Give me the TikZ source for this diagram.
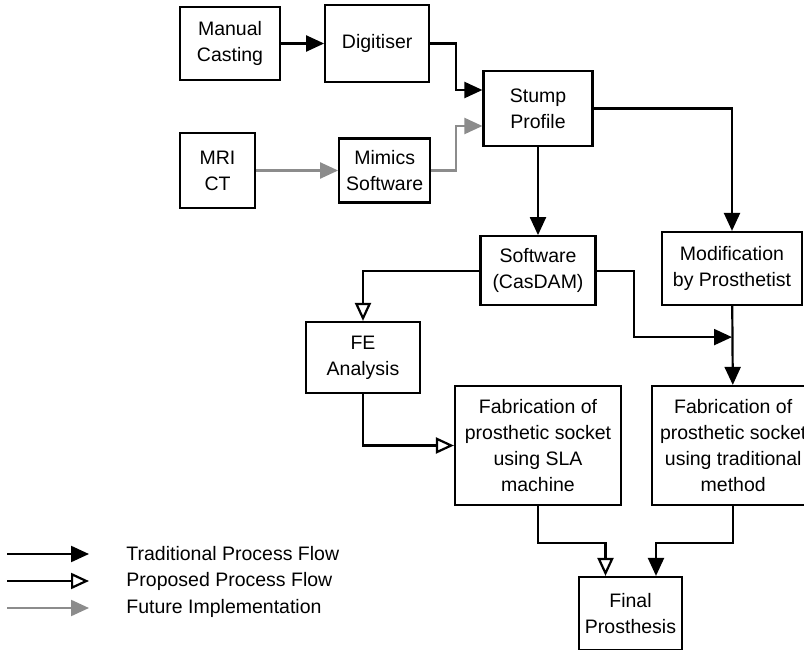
\documentclass[tikz,border=0pt]{standalone}
\usepackage{fontspec}
\setmainfont{Liberation Sans}
\usetikzlibrary{arrows.meta, positioning}

\begin{document}
\begin{tikzpicture}[
    x=1pt, y=-1pt,
    font=\fontsize{19.5pt}{26pt}\selectfont,
    line width=2.2pt,
    proc/.style={draw, align=center, inner sep=0pt},
    arrow/.style={-{Triangle[length=18pt, width=16pt]}},
    openarrow/.style={-{Triangle[length=18pt, width=16pt, fill=white]}},
    grayarrow/.style={draw=black!45, -{Triangle[length=18pt, width=16pt]}}
]
    \clip (0,0) rectangle (804,650);

    % Input sources
    \node[proc, minimum width=100pt, minimum height=73pt] (cast) at (230,43.5) {Manual\\Casting};
    \node[proc, minimum width=104pt, minimum height=77pt, right=43pt of cast] (digi) {Digitiser};
    \node[proc, minimum width=75pt, minimum height=75pt] (mri) at (217.5,170.5) {MRI\\CT};
    \node[proc, minimum width=91pt, minimum height=64pt, right=82pt of mri] (mimics) {Mimics\\Software};
    \node[proc, minimum width=109pt, minimum height=75pt] (stump) at (538,108.5) {Stump\\Profile};

    % Processing
    \node[proc, minimum width=115pt, minimum height=69pt, below=88pt of stump] (soft) {Software\\(CasDAM)};
    \node[proc, minimum width=140pt, minimum height=73pt] (modif) at (732,268.5) {Modification\\by Prosthetist};
    \node[proc, minimum width=114pt, minimum height=71pt] (fe) at (363,357.5) {FE\\Analysis};
    \coordinate[below=31pt of modif.south] (merge);

    % Fabrication
    \node[proc, minimum width=166pt, minimum height=119pt] (sla) at (538,445.5) {Fabrication of\\prosthetic socket\\using SLA\\machine};
    \node[proc, minimum width=162pt, minimum height=119pt, right=29pt of sla] (fab) {Fabrication of\\prosthetic socket\\using traditional\\method};
    \node[proc, minimum width=103pt, minimum height=73pt] (final) at (630.5,613.5) {Final\\Prosthesis};

    % Legend
    \node[anchor=west] (lgtrad) at (122,554) {Traditional Process Flow};
    \node[anchor=west] (lgprop) at (122,581) {Proposed Process Flow};
    \node[anchor=west] (lgfut) at (122,608) {Future Implementation};
    \coordinate (lt0) at (7,554); \coordinate (lt1) at (89,554);
    \coordinate (lp0) at (7,581); \coordinate (lp1) at (89,581);
    \coordinate (lf0) at (7,608); \coordinate (lf1) at (89,608);

    % Connections
    \draw[arrow] (cast) -- (digi);
    \draw[arrow] (digi.east) -- ++(26,0) |- ([yshift=18.5pt]stump.west);
    \draw[grayarrow] (mri) -- (mimics);
    \draw[grayarrow] (mimics.east) -- ++(25,0) |- ([yshift=-17.5pt]stump.west);

    \draw[arrow] (stump) -- (soft);
    \draw[arrow] (stump.east) -| (modif.north);
    \draw[openarrow] (soft.west) -| (fe.north);
    \draw[arrow] (soft.east) -- ++(37,0) |- (merge);
    \draw[arrow] (modif) -- (fab);

    \draw[openarrow] (fe.south) |- (sla.west);
    \draw[openarrow] (sla.south) -- ++(0,37) -| ([xshift=-25pt]final.north);
    \draw[arrow] (fab.south) -- ++(0,37) -| ([xshift=25.5pt]final.north);

    \draw[arrow] (lt0) -- (lt1);
    \draw[openarrow] (lp0) -- (lp1);
    \draw[grayarrow] (lf0) -- (lf1);
\end{tikzpicture}
\end{document}
